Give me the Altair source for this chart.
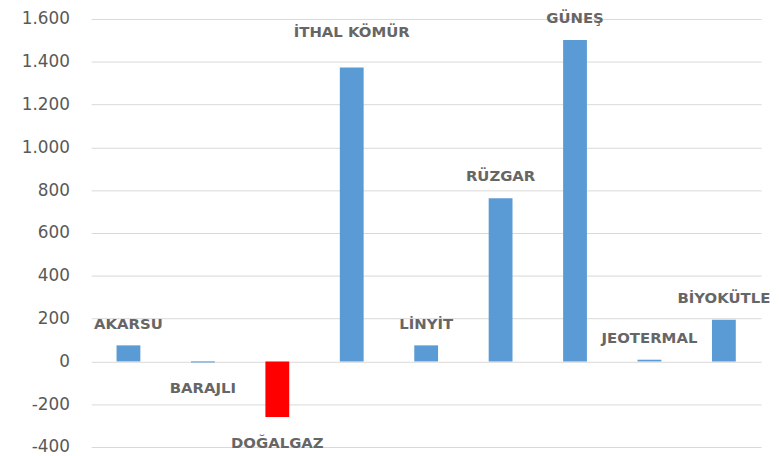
import altair as alt
import pandas as pd

categories = ["AKARSU", "BARAJLI", "DOĞALGAZ", "İTHAL KÖMÜR", "LİNYİT", "RÜZGAR", "GÜNEŞ", "JEOTERMAL", "BİYOKÜTLE"]
values = [75, -5, -260, 1373, 75, 762, 1502, 8, 195]

df = pd.DataFrame({"cat": categories, "val": values})

FONT = "DejaVu Sans"
GRAY = "#595959"

x = alt.X("cat:N", sort=categories, title=None,
          scale=alt.Scale(paddingInner=0.68, paddingOuter=0.34),
          axis=None)
y = alt.Y("val:Q", title=None,
          scale=alt.Scale(domain=[-400, 1600], nice=False, zero=True),
          axis=alt.Axis(values=list(range(-400, 1601, 200)), grid=True, gridColor="#d9d9d9",
                        domain=False, ticks=False, labelFontSize=17, labelColor=GRAY,
                        labelFont=FONT, labelPadding=22, minExtent=82, maxExtent=82,
                        labelExpr="replace(replace(format(datum.value, ','), ',', '.'), '\u2212', '-')"))

bars = alt.Chart(df).mark_bar().encode(
    x=x, y=y,
    color=alt.condition(alt.datum.cat == "DOĞALGAZ", alt.value("#ff0000"), alt.value("#5b9bd5")),
)

tstyle = dict(font=FONT, fontSize=15, fontWeight="bold", color="#666666")
base_text = alt.Chart(df)
pos = base_text.transform_filter("datum.val >= 0 && datum.cat != 'İTHAL KÖMÜR'").mark_text(
    baseline="bottom", dy=-14, **tstyle
).encode(x=x, y=y, text="cat:N")
ithal = base_text.transform_filter("datum.cat == 'İTHAL KÖMÜR'").mark_text(
    baseline="bottom", dy=-28, **tstyle
).encode(x=x, y=y, text="cat:N")
neg = base_text.transform_filter("datum.val < 0").mark_text(
    baseline="top", dy=19, **tstyle
).encode(x=x, y=y, text="cat:N")

chart = alt.layer(bars, pos, ithal, neg).properties(
    width=676, height=432, background="white",
    padding={"left": 2, "top": 0, "right": 0, "bottom": 0},
).configure_view(strokeWidth=0, strokeOpacity=0).configure_axis(domain=False)

chart.save("out.html", embed_options={"renderer": "svg", "actions": False})
